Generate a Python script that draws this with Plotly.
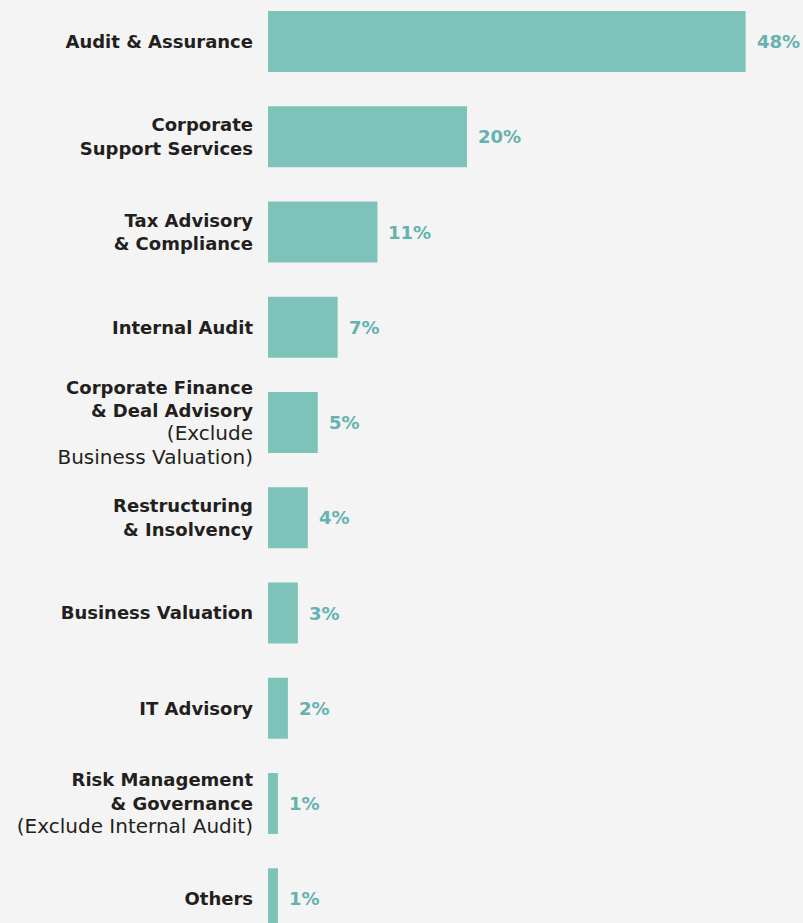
import plotly.graph_objects as go

# Service lines and their share of respondents (%)
NOTE = "<span style='font-size:20px'>{}</span>"
categories = [
    "<b>Audit & Assurance</b>",
    "<b>Corporate<br>Support Services</b>",
    "<b>Tax Advisory<br>& Compliance</b>",
    "<b>Internal Audit</b>",
    "<b>Corporate Finance<br>& Deal Advisory</b><br>"
    + NOTE.format("(Exclude") + "<br>" + NOTE.format("Business Valuation)"),
    "<b>Restructuring<br>& Insolvency</b>",
    "<b>Business Valuation</b>",
    "<b>IT Advisory</b>",
    "<b>Risk Management<br>& Governance</b><br>" + NOTE.format("(Exclude Internal Audit)"),
    "<b>Others</b>",
]
shares = [48, 20, 11, 7, 5, 4, 3, 2, 1, 1]
value_labels = [f"{v}%" for v in shares]

BAR_COLOR = "#7EC3B9"
VALUE_COLOR = "#66B2B0"
TEXT_COLOR = "#231F20"
BG = "#F3F4F3"
FONT = "DejaVu Sans"

fig = go.Figure(
    go.Bar(
        x=shares,
        y=categories,
        orientation="h",
        marker=dict(color=BAR_COLOR, line=dict(width=0)),
        hoverinfo="skip",
    )
)

# value labels placed just right of each bar end
for cat, v, lab in zip(categories, shares, value_labels):
    fig.add_annotation(
        x=v, y=cat, text=f"<b>{lab}</b>", showarrow=False,
        xanchor="left", yanchor="middle", xshift=9,
        font=dict(family=FONT, size=18, color=VALUE_COLOR),
    )

fig.update_layout(
    width=803, height=923,
    margin=dict(l=268, r=0, t=0, b=0),
    paper_bgcolor=BG, plot_bgcolor=BG,
    bargap=0.36,
    showlegend=False,
    font=dict(family=FONT, size=18, color=TEXT_COLOR),
)
fig.update_xaxes(
    range=[0, 53.77], visible=False, showgrid=False, zeroline=False, fixedrange=True,
)
fig.update_yaxes(
    type="category",
    range=[9.2546, -0.4357],
    showgrid=False, zeroline=False, showline=False, ticks="",
    ticklabelstandoff=14,
    tickfont=dict(family=FONT, size=18, color=TEXT_COLOR),
    fixedrange=True,
)

fig.write_html("out.html")
